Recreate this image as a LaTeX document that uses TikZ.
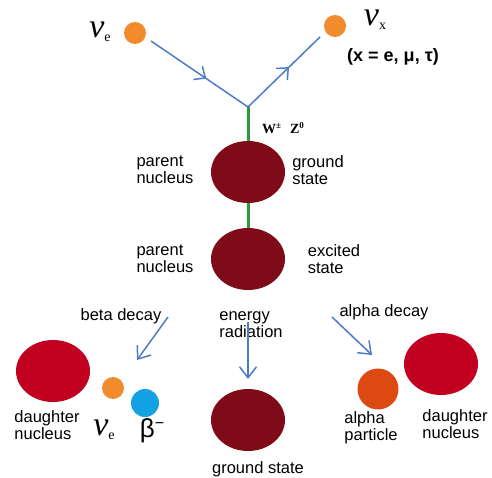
\documentclass[tikz,border=0pt]{standalone}
\usepackage{fontspec}
\setmainfont{Liberation Sans}
\newfontfamily\serifgr{Liberation Serif}
\usetikzlibrary{arrows.meta,decorations.markings,shapes.geometric}
\definecolor{maroon}{HTML}{7F0A18}
\definecolor{crimson}{HTML}{C20020}
\definecolor{nuorange}{HTML}{F28A2E}
\definecolor{alphaor}{HTML}{DC4A12}
\definecolor{betablue}{HTML}{12A2E2}
\definecolor{lineblue}{HTML}{4C7CC8}
\definecolor{bosongreen}{HTML}{2E9A35}
\tikzset{
  lbl/.style={font=\fontsize{16.5}{17}\selectfont, align=left, inner sep=0pt},
  nucl/.style={ellipse, minimum width=74pt, minimum height=62pt, inner sep=0pt},
  dot/.style={circle, inner sep=0pt, minimum size=22pt, fill=nuorange},
  fermion/.style={lineblue, line width=1.5pt, postaction={decorate},
    decoration={markings, mark=at position 0.57 with {\arrow{Straight Barb[length=9pt,width=16pt,line width=1.5pt]}}}},
  decayarrow/.style={lineblue, line width=1.5pt, -{Straight Barb[length=11pt,width=17pt,line width=1.5pt]}},
  boson/.style={bosongreen, line width=3pt},
}
\newcommand{\nusym}[1]{{\serifgr\fontsize{34}{34}\selectfont\itshape ν\upshape\raisebox{-4pt}{\fontsize{14}{14}\selectfont #1}}}
\begin{document}
\begin{tikzpicture}[x=1pt,y=-1pt]
\useasboundingbox (0,0) rectangle (492,478);
% top neutrinos
\node[dot] (nue) at (135,33) {};
\node[dot] (nux) at (335,26) {};
\node[inner sep=0pt] (nuelbl) at (100,32) {\nusym{e}};
\node[inner sep=0pt] (nuxlbl) at (375,20) {\nusym{x}};
\node[lbl, font=\bfseries\fontsize{18}{18}\selectfont] (xlbl) at (393,57) {(x = e, μ, τ)};
\coordinate (vtx) at (248,107);
\coordinate (inend) at (151,41);
\coordinate (outend) at (320,37);
\draw[fermion] (inend) -- (vtx);
\draw[fermion] (vtx) -- (outend);
% nuclei
\node[nucl, fill=maroon] (pg) at (248,172) {};
\node[nucl, fill=maroon] (pe) at (248,259) {};
\node[nucl, fill=maroon] (gs) at (248,420) {};
\draw[boson] (vtx) -- (pg.north);
\draw[boson] (pg.south) -- (pe.north);
\node[inner sep=0pt] (wz) at (283,128) {\serifgr\bfseries\fontsize{14}{14}\selectfont W\raisebox{5pt}{\fontsize{9}{9}\selectfont ±}\hspace{9pt}Z\raisebox{5pt}{\fontsize{9}{9}\selectfont 0}};
\node[lbl] (pn1) at (165,170) {parent\\nucleus};
\node[lbl] (gs1) at (318,170) {ground\\state};
\node[lbl] (pn2) at (165,259) {parent\\nucleus};
\node[lbl] (es) at (334,259) {excited\\state};
% decay labels
\node[lbl] (beta) at (121,316) {beta decay};
\node[lbl] (er) at (251,325) {energy\\radiation};
\node[lbl] (alpha) at (384,312) {alpha decay};
\coordinate (bstart) at (168,317);
\coordinate (bend) at (137,360);
\coordinate (estart) at (248,322);
\coordinate (eend) at (248,379);
\coordinate (astart) at (332,317);
\coordinate (aend) at (372,355);
\draw[decayarrow] (bstart) -- (bend);
\draw[decayarrow] (estart) -- (eend);
\draw[decayarrow] (astart) -- (aend);
% beta products
\node[nucl, fill=crimson] (dl) at (53,371) {};
\node[dot, minimum size=22pt] (nue2) at (113,388) {};
\node[circle, inner sep=0pt, minimum size=28pt, fill=betablue] (bm) at (145,403) {};
\node[lbl] (dn1) at (47,425) {daughter\\nucleus};
\node[inner sep=0pt] (nue2lbl) at (104,430) {\nusym{e}};
\node[inner sep=0pt] (bmlbl) at (152,431) {\fontsize{26}{26}\selectfont β\raisebox{9pt}{\fontsize{16}{16}\selectfont −}};
\node[lbl] (gs2) at (258,469) {ground state};
% alpha products
\node[circle, inner sep=0pt, minimum size=41pt, fill=alphaor] (ap) at (378,389) {};
\node[nucl, fill=crimson] (dr) at (441,364) {};
\node[lbl] (apl) at (371,428) {alpha\\particle};
\node[lbl] (dn2) at (455,424) {daughter\\nucleus};
\end{tikzpicture}
\end{document}
